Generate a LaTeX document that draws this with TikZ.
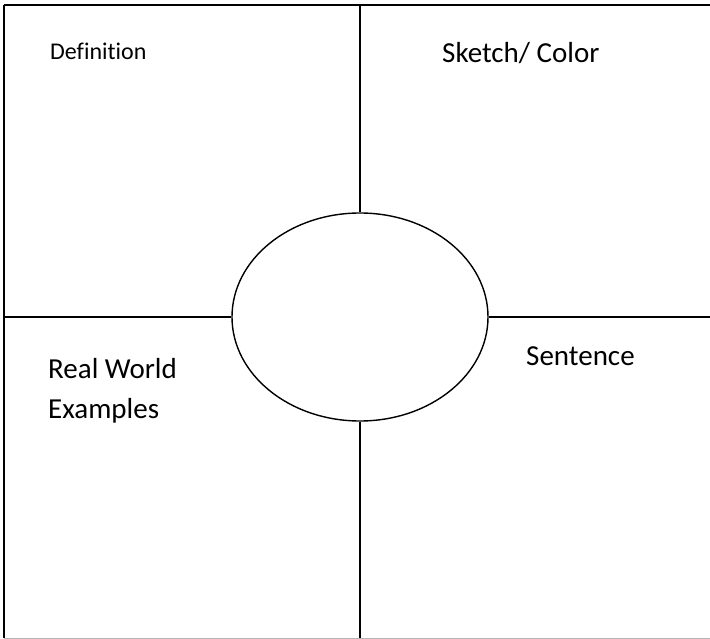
\documentclass[tikz,border=0pt]{standalone}
\usepackage{fontspec}
\setmainfont[Ligatures=NoCommon]{Carlito}
\usepackage{xcolor}
\usepackage{tikz}
\usetikzlibrary{shapes.geometric,positioning}
\definecolor{FrameGrey}{HTML}{B4B4B4}
\newcommand{\quadlabel}[4]{%
  \node[anchor=base west,inner sep=0pt,align=left,
        font=\fontsize{#2}{40}\selectfont,#4] (#1) {#3};}

\begin{document}
\begin{tikzpicture}[x=1pt,y=-1pt]
  \useasboundingbox (0,0) rectangle (710,639);
  \coordinate (tl) at (4,5);
  \coordinate (tr) at (710,5);
  \coordinate (bl) at (4,638);
  \coordinate (br) at (710,638);
  \node[draw,ellipse,line width=1.4pt,inner sep=0pt,
        minimum width=256,minimum height=208] (hub) at (360,317) {};
  \coordinate (vtop) at (hub.north |- tl);
  \coordinate (vbot) at (hub.south |- bl);
  \coordinate (hleft) at (tl |- hub.west);
  \coordinate (hright) at (tr |- hub.east);
  \draw[line width=1.8pt] (tl) -- (tr);
  \draw[line width=1.8pt] (tl) -- (bl);
  \draw[FrameGrey,line width=1pt] (bl) -- (br);
  \draw[line width=1.8pt] (vtop) -- (hub.north);
  \draw[line width=1.8pt] (hub.south) -- (vbot);
  \draw[line width=1.4pt] (hleft) -- (hub.west);
  \draw[line width=1.4pt] (hub.east) -- (hright);
  \quadlabel{defn}{24}{Definition}{at={(50,60)}}
  \quadlabel{sketch}{29}{Sketch/ Color}{at={(442,63)}}
  \quadlabel{sentence}{29}{Sentence}{at={(526,365)}}
  \quadlabel{examples}{29}{Real World\\Examples}{at={(48,418)}}
\end{tikzpicture}
\end{document}
